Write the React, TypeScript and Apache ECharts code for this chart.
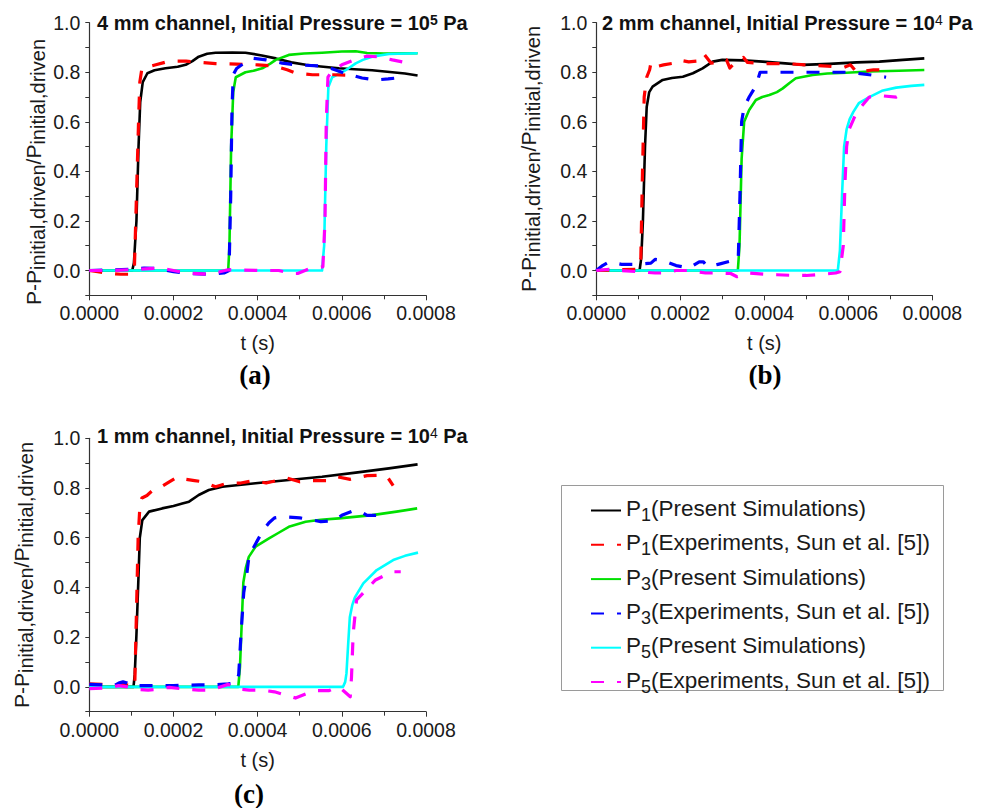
import React, { useEffect, useRef } from "react";
import * as echarts from "echarts";

// ---------- data (t in seconds, value = (P - P_initial,driven) / P_initial,driven) ----------
const X_MIN = 0;
const X_MAX = 0.0008;
const X_STEP = 0.0002;
const Y_MIN = -0.1;
const Y_MAX = 1.0;
const Y_STEP = 0.1;

const SERIES_NAMES = [
  "P1(Present Simulations)",
  "P1(Experiments, Sun et al. [5])",
  "P3(Present Simulations)",
  "P3(Experiments, Sun et al. [5])",
  "P5(Present Simulations)",
  "P5(Experiments, Sun et al. [5])",
];

const PANEL_TITLES = [
  ["4 mm channel, Initial Pressure = 10", "5", " Pa"],
  ["2 mm channel, Initial Pressure = 10", "4", " Pa"],
  ["1 mm channel, Initial Pressure = 10", "4", " Pa"],
];
const PANEL_LABELS = ["(a)", "(b)", "(c)"];

// Panel (a): 4 mm, 1e5 Pa
const A_P1_SIM = [[0,0],[1.02e-4,0],[1.06e-4,0.03],[1.12e-4,0.2],[1.17e-4,0.5],[1.21e-4,0.68],[1.27e-4,0.76],[1.38e-4,0.796],[1.55e-4,0.808],[1.81e-4,0.816],[2.1e-4,0.822],[2.29e-4,0.83],[2.45e-4,0.845],[2.6e-4,0.863],[2.8e-4,0.875],[3.0e-4,0.879],[3.4e-4,0.88],[3.71e-4,0.879],[4.1e-4,0.868],[4.43e-4,0.856],[4.8e-4,0.84],[5.14e-4,0.83],[5.5e-4,0.823],[5.93e-4,0.816],[6.3e-4,0.812],[6.72e-4,0.808],[7.2e-4,0.8],[7.5e-4,0.795],[7.8e-4,0.787]];
const A_P1_EXP = [[0,0],[2e-5,-0.005],[5e-5,-0.012],[7.5e-5,-0.015],[1.0e-4,-0.015],[1.07e-4,0.0],[1.12e-4,0.3],[1.17e-4,0.6],[1.2e-4,0.76],[1.25e-4,0.815],[1.58e-4,0.83],[1.9e-4,0.845],[2.3e-4,0.845],[2.6e-4,0.84],[3.0e-4,0.835],[3.5e-4,0.833],[4.0e-4,0.83],[4.4e-4,0.825],[4.7e-4,0.81],[4.9e-4,0.797],[5.3e-4,0.79],[5.8e-4,0.79],[6.2e-4,0.788]];
const A_P3_SIM = [[0,0],[3.3e-4,0],[3.33e-4,0.1],[3.37e-4,0.5],[3.42e-4,0.72],[3.48e-4,0.78],[3.71e-4,0.8],[3.9e-4,0.806],[4.11e-4,0.816],[4.3e-4,0.835],[4.43e-4,0.85],[4.74e-4,0.87],[5.1e-4,0.876],[5.53e-4,0.879],[6.0e-4,0.884],[6.33e-4,0.885],[6.6e-4,0.878],[7.0e-4,0.876],[7.8e-4,0.877]];
const A_P3_EXP = [[0,0],[1.0e-4,0.005],[1.3e-4,0.01],[1.6e-4,0.008],[2.0e-4,-0.005],[2.4e-4,-0.012],[2.9e-4,-0.015],[3.2e-4,-0.01],[3.32e-4,0],[3.36e-4,0.3],[3.39e-4,0.65],[3.42e-4,0.79],[3.5e-4,0.815],[3.7e-4,0.84],[3.87e-4,0.857],[4.2e-4,0.85],[4.58e-4,0.837],[4.9e-4,0.83],[5.45e-4,0.826],[5.75e-4,0.815],[6.0e-4,0.8],[6.48e-4,0.777],[6.8e-4,0.769],[7.1e-4,0.773],[7.47e-4,0.78]];
const A_P5_SIM = [[0,0],[5.53e-4,0],[5.58e-4,0.1],[5.63e-4,0.5],[5.68e-4,0.74],[5.77e-4,0.78],[6.0e-4,0.8],[6.15e-4,0.815],[6.33e-4,0.836],[6.5e-4,0.85],[6.72e-4,0.863],[7.12e-4,0.874],[7.8e-4,0.877]];
const A_P5_EXP = [[0,0],[5e-5,0],[1.2e-4,0.005],[1.7e-4,0.01],[2.3e-4,-0.01],[2.8e-4,-0.015],[3.1e-4,-0.005],[3.3e-4,0.003],[4.2e-4,0],[4.5e-4,0],[4.8e-4,-0.012],[4.95e-4,-0.012],[5.2e-4,0.005],[5.55e-4,0.015],[5.6e-4,0.2],[5.63e-4,0.6],[5.67e-4,0.78],[5.75e-4,0.8],[6.0e-4,0.83],[6.3e-4,0.85],[6.6e-4,0.865],[6.9e-4,0.862],[7.2e-4,0.85],[7.5e-4,0.84]];

// Panel (b): 2 mm, 1e4 Pa
const B_P1_SIM = [[0,0],[1.03e-4,0],[1.07e-4,0.05],[1.11e-4,0.2],[1.16e-4,0.5],[1.2e-4,0.66],[1.26e-4,0.72],[1.34e-4,0.742],[1.58e-4,0.769],[1.8e-4,0.777],[2.06e-4,0.782],[2.3e-4,0.796],[2.53e-4,0.816],[2.77e-4,0.843],[3.0e-4,0.85],[3.5e-4,0.848],[3.96e-4,0.843],[4.5e-4,0.836],[4.91e-4,0.83],[5.55e-4,0.834],[6.2e-4,0.84],[6.74e-4,0.843],[7.3e-4,0.85],[7.81e-4,0.856]];
const B_P1_EXP = [[0,0],[5e-5,0.003],[1.0e-4,0.005],[1.06e-4,0.05],[1.1e-4,0.4],[1.14e-4,0.7],[1.2e-4,0.78],[1.27e-4,0.81],[1.3e-4,0.837],[1.36e-4,0.82],[1.6e-4,0.83],[1.85e-4,0.837],[1.95e-4,0.85],[2.2e-4,0.842],[2.4e-4,0.845],[2.55e-4,0.877],[2.73e-4,0.837],[2.9e-4,0.84],[3.1e-4,0.85],[3.18e-4,0.817],[3.3e-4,0.84],[3.5e-4,0.86],[3.6e-4,0.84],[4.0e-4,0.835],[4.5e-4,0.835],[5.0e-4,0.83],[5.5e-4,0.825],[5.9e-4,0.82],[6.05e-4,0.83],[6.2e-4,0.8],[6.6e-4,0.81],[6.9e-4,0.81]];
const B_P3_SIM = [[0,0],[3.37e-4,0],[3.41e-4,0.1],[3.46e-4,0.45],[3.52e-4,0.6],[3.64e-4,0.648],[3.8e-4,0.688],[3.95e-4,0.7],[4.12e-4,0.708],[4.3e-4,0.72],[4.44e-4,0.735],[4.6e-4,0.757],[4.75e-4,0.776],[5.15e-4,0.789],[5.5e-4,0.795],[5.95e-4,0.798],[6.5e-4,0.803],[7.2e-4,0.806],[7.81e-4,0.809]];
const B_P3_EXP = [[0,0],[1.5e-5,0.02],[3e-5,0.035],[6e-5,0.025],[9.5e-5,0.025],[1.3e-4,0.03],[1.4e-4,0.045],[1.6e-4,0.04],[1.9e-4,0.02],[2.2e-4,0.01],[2.45e-4,0.035],[2.55e-4,0.035],[2.65e-4,0.015],[2.9e-4,0.025],[3.25e-4,0.04],[3.38e-4,0.045],[3.42e-4,0.3],[3.46e-4,0.6],[3.52e-4,0.66],[3.64e-4,0.7],[3.8e-4,0.745],[3.9e-4,0.8],[4.5e-4,0.8],[5.0e-4,0.8],[5.5e-4,0.8],[6.0e-4,0.8],[6.5e-4,0.79],[6.9e-4,0.78]];
const B_P5_SIM = [[0,0],[5.75e-4,0],[5.8e-4,0.08],[5.85e-4,0.3],[5.9e-4,0.5],[5.96e-4,0.57],[6.03e-4,0.61],[6.12e-4,0.64],[6.25e-4,0.675],[6.5e-4,0.7],[6.8e-4,0.725],[7.14e-4,0.738],[7.5e-4,0.745],[7.81e-4,0.749]];
const B_P5_EXP = [[0,0],[3e-5,0.005],[6e-5,0],[1.0e-4,-0.005],[1.4e-4,-0.01],[1.6e-4,-0.01],[1.9e-4,0],[2.2e-4,0],[2.6e-4,-0.01],[2.9e-4,-0.01],[3.2e-4,-0.012],[3.35e-4,-0.025],[3.45e-4,-0.02],[3.6e-4,-0.01],[4.0e-4,-0.015],[4.3e-4,-0.017],[4.7e-4,-0.02],[5.0e-4,-0.02],[5.4e-4,-0.015],[5.7e-4,-0.01],[5.8e-4,-0.005],[5.88e-4,0.1],[5.92e-4,0.35],[5.96e-4,0.5],[6.02e-4,0.57],[6.15e-4,0.62],[6.25e-4,0.65],[6.5e-4,0.7],[6.8e-4,0.705],[7.14e-4,0.7],[7.25e-4,0.71]];

// Panel (c): 1 mm, 1e4 Pa
const C_P1_SIM = [[0,0],[1.05e-4,0],[1.08e-4,0.05],[1.12e-4,0.21],[1.17e-4,0.45],[1.2e-4,0.6],[1.26e-4,0.671],[1.42e-4,0.705],[1.73e-4,0.718],[2.0e-4,0.728],[2.21e-4,0.738],[2.37e-4,0.745],[2.6e-4,0.772],[2.84e-4,0.792],[3.16e-4,0.805],[3.95e-4,0.819],[4.74e-4,0.832],[5.53e-4,0.845],[6.33e-4,0.862],[7.12e-4,0.879],[7.8e-4,0.895]];
const C_P1_EXP = [[0,0.012],[3e-5,0.01],[6e-5,0.005],[8e-5,0.01],[1.0e-4,0.005],[1.08e-4,0],[1.12e-4,0.3],[1.16e-4,0.6],[1.2e-4,0.72],[1.25e-4,0.76],[1.37e-4,0.77],[1.5e-4,0.79],[1.66e-4,0.8],[1.9e-4,0.825],[2.1e-4,0.845],[2.3e-4,0.835],[2.5e-4,0.83],[2.7e-4,0.825],[3.0e-4,0.805],[3.3e-4,0.82],[3.6e-4,0.82],[3.9e-4,0.83],[4.2e-4,0.82],[4.7e-4,0.84],[5.0e-4,0.825],[5.3e-4,0.83],[5.7e-4,0.83],[5.9e-4,0.845],[6.2e-4,0.835],[6.6e-4,0.85],[7.0e-4,0.852],[7.1e-4,0.84],[7.22e-4,0.81]];
const C_P3_SIM = [[0,0],[3.54e-4,0],[3.58e-4,0.08],[3.62e-4,0.25],[3.66e-4,0.42],[3.72e-4,0.48],[3.79e-4,0.523],[3.95e-4,0.564],[4.27e-4,0.597],[4.5e-4,0.62],[4.74e-4,0.644],[5.14e-4,0.664],[5.5e-4,0.672],[5.93e-4,0.678],[6.72e-4,0.691],[7.3e-4,0.705],[7.79e-4,0.718]];
const C_P3_EXP = [[0,0.01],[3e-5,0.008],[6e-5,0.005],[7e-5,0.015],[8e-5,0.02],[9e-5,0.015],[1.0e-4,0.005],[1.3e-4,0.005],[2.0e-4,0.005],[2.6e-4,0.008],[2.9e-4,0.008],[3.3e-4,0.012],[3.5e-4,0.015],[3.55e-4,0.05],[3.6e-4,0.2],[3.67e-4,0.38],[3.74e-4,0.45],[3.79e-4,0.52],[3.9e-4,0.56],[4.13e-4,0.63],[4.27e-4,0.66],[4.4e-4,0.68],[4.6e-4,0.685],[5.0e-4,0.68],[5.5e-4,0.665],[5.8e-4,0.668],[6.0e-4,0.69],[6.3e-4,0.71],[6.45e-4,0.705],[6.6e-4,0.69],[7.1e-4,0.69]];
const C_P5_SIM = [[0,0],[6.03e-4,0],[6.08e-4,0.02],[6.11e-4,0.054],[6.15e-4,0.17],[6.19e-4,0.28],[6.25e-4,0.33],[6.31e-4,0.36],[6.51e-4,0.416],[6.83e-4,0.47],[7.22e-4,0.51],[7.5e-4,0.527],[7.81e-4,0.54]];
const C_P5_EXP = [[0,-0.007],[4e-5,-0.005],[7e-5,0.005],[9e-5,0],[1.1e-4,-0.01],[1.4e-4,-0.013],[1.6e-4,-0.01],[1.9e-4,-0.002],[2.2e-4,-0.008],[2.6e-4,-0.013],[2.9e-4,-0.013],[3.3e-4,0.01],[3.6e-4,-0.01],[3.8e-4,-0.013],[4.1e-4,-0.013],[4.4e-4,-0.02],[4.6e-4,-0.03],[4.9e-4,-0.045],[5.2e-4,-0.025],[5.4e-4,-0.015],[5.7e-4,-0.015],[5.9e-4,0],[6.0e-4,-0.01],[6.2e-4,-0.04],[6.23e-4,0.04],[6.27e-4,0.215],[6.35e-4,0.35],[6.5e-4,0.376],[6.8e-4,0.43],[7.2e-4,0.463],[7.4e-4,0.463]];

const PANEL_DATA = [
  [A_P1_SIM, A_P1_EXP, A_P3_SIM, A_P3_EXP, A_P5_SIM, A_P5_EXP],
  [B_P1_SIM, B_P1_EXP, B_P3_SIM, B_P3_EXP, B_P5_SIM, B_P5_EXP],
  [C_P1_SIM, C_P1_EXP, C_P3_SIM, C_P3_EXP, C_P5_SIM, C_P5_EXP],
];

// ---------- styles / layout ----------
const COLORS = ["#000000", "#ff0000", "#00e000", "#0000ff", "#00ffff", "#ff00ff"];
const SANS = "Liberation Sans";
const GRIDS = [
  { left: 89.3, top: 22.7, width: 336.7, height: 272.6 },
  { left: 596.3, top: 22.7, width: 336, height: 272.6 },
  { left: 89.3, top: 438.3, width: 336.7, height: 273.4 },
];
const TITLE_POS = [
  { left: 97, top: 13 },
  { left: 602, top: 12.5 },
  { left: 97, top: 425.5 },
];
const YNAME_GAP = [41, 53, 53];
const YNAME_PAD = [[0, 26, 0, 0], [0, 0, 0, 0], [0, 0, 0, 0]];
const LABEL_POS = [
  [255, 375],
  [765, 375],
  [249, 794],
];

const AX_COLOR = "#333";

function buildOption() {
  const grid = GRIDS.map((g) => ({ ...g, containLabel: false, outerBoundsMode: "none" }));

  const xAxis = GRIDS.map((_, i) => ({
    type: "value",
    gridIndex: i,
    min: X_MIN,
    max: X_MAX,
    interval: X_STEP,
    axisLine: { show: true, onZero: false, lineStyle: { color: AX_COLOR, width: 1.2 } },
    axisTick: { show: true, length: 5, lineStyle: { color: AX_COLOR, width: 1 } },
    minorTick: { show: true, splitNumber: 2, length: 4, lineStyle: { color: AX_COLOR, width: 1 } },
    splitLine: { show: false },
    axisLabel: {
      formatter: (v: number) => v.toFixed(4),
      fontSize: 19.5,
      color: "#1a1a1a",
      fontFamily: SANS,
      margin: 8,
    },
    name: "t (s)",
    nameLocation: "middle",
    nameGap: 38,
    nameTextStyle: { fontSize: 20, color: "#1a1a1a", fontFamily: SANS },
  }));

  const yRich = {
    m: { fontSize: 21, fontFamily: SANS, color: "#1a1a1a", verticalAlign: "bottom", padding: [0, 0, 4, 0] },
    s: { fontSize: 20, fontFamily: SANS, color: "#1a1a1a", verticalAlign: "bottom" },
  };

  const yAxis = GRIDS.map((_, i) => ({
    type: "value",
    gridIndex: i,
    min: Y_MIN,
    max: Y_MAX,
    interval: Y_STEP,
    axisLine: { show: true, onZero: false, lineStyle: { color: AX_COLOR, width: 1.2 } },
    axisTick: { show: true, length: 4, lineStyle: { color: AX_COLOR, width: 1 } },
    splitLine: { show: false },
    axisLabel: {
      formatter: (v: number) => {
        const r = Math.round(v * 10);
        if (r % 2 !== 0) return "";
        return (r / 10).toFixed(1);
      },
      fontSize: 19.5,
      color: "#1a1a1a",
      fontFamily: SANS,
      margin: 9,
    },
    name: "{m|P-P}{s|initial,driven}{m|/P}{s|initial,driven}",
    nameLocation: "middle",
    nameGap: YNAME_GAP[i],
    nameTextStyle: { rich: yRich, padding: YNAME_PAD[i] },
  }));

  const series: any[] = [];
  const order = [0, 2, 4, 1, 3, 5]; // simulations underneath experiments
  PANEL_DATA.forEach((panel, pi) => {
    order.forEach((k) => {
      const dashed = k % 2 === 1;
      series.push({
        type: "line",
        name: SERIES_NAMES[k],
        data: panel[k],
        xAxisIndex: pi,
        yAxisIndex: pi,
        symbol: "none",
        showSymbol: false,
        smooth: false,
        silent: true,
        z: dashed ? 3 : 2,
        lineStyle: {
          color: COLORS[k],
          width: dashed ? 3.2 : 2.6,
          type: dashed ? [13, 13] : "solid",
          cap: "butt",
          join: "round",
        },
        itemStyle: { color: COLORS[k] },
      });
    });
  });

  const title = PANEL_TITLES.map((t, i) => ({
    text: `{b|${t[0]}}{sup|${t[1]}}{b|${t[2]}}`,
    left: TITLE_POS[i].left,
    top: TITLE_POS[i].top,
    padding: 0,
    textStyle: {
      rich: {
        b: { fontSize: 20, fontWeight: "bold", fontFamily: SANS, color: "#111" },
        sup: {
          fontSize: 14,
          fontWeight: i === 0 ? "bold" : "normal",
          fontFamily: SANS,
          color: "#111",
          verticalAlign: "top",
        },
      },
    },
  }));

  const legend = {
    orient: "vertical",
    left: 585,
    top: 492,
    itemWidth: 30,
    itemHeight: 12,
    itemGap: 7.3,
    selectedMode: false,
    itemStyle: { opacity: 0, borderWidth: 0 },
    data: SERIES_NAMES,
    formatter: (name: string) => {
      const m = name.match(/^P(\d)(.*)$/);
      if (!m) return name;
      return `{m|P}{s|${m[1]}}{m|${m[2]}}`;
    },
    textStyle: {
      rich: {
        m: { fontSize: 22.5, fontFamily: SANS, color: "#1a1a1a", verticalAlign: "bottom", padding: [0, 0, 4, 0] },
        s: { fontSize: 18, fontFamily: SANS, color: "#1a1a1a", verticalAlign: "bottom" },
      },
    },
  };

  const graphic = [
    {
      type: "rect",
      shape: { x: 561.5, y: 485.5, width: 382, height: 205 },
      style: { fill: "none", stroke: "#9a9a9a", lineWidth: 1 },
      z: 0,
    },
    ...PANEL_LABELS.map((lab, i) => ({
      type: "text",
      x: LABEL_POS[i][0],
      y: LABEL_POS[i][1],
      style: {
        text: lab,
        fontSize: 27,
        fontWeight: "bold",
        fontFamily: "Liberation Serif",
        fill: "#000",
        textAlign: "center",
        textVerticalAlign: "middle",
        align: "center",
        verticalAlign: "middle",
      },
    })),
  ];

  return {
    animation: false,
    backgroundColor: "#ffffff",
    grid,
    xAxis,
    yAxis,
    series,
    title,
    legend,
    graphic,
  };
}

export default function App() {
  const ref = useRef<HTMLDivElement>(null);
  useEffect(() => {
    if (!ref.current) return;
    const chart = echarts.init(ref.current, null, { renderer: "svg" });
    chart.setOption(buildOption() as any);
    return () => chart.dispose();
  }, []);
  return (
    <div
      ref={ref}
      style={{ position: "fixed", left: 0, top: 0, width: 986, height: 808, background: "#fff" }}
    />
  );
}
